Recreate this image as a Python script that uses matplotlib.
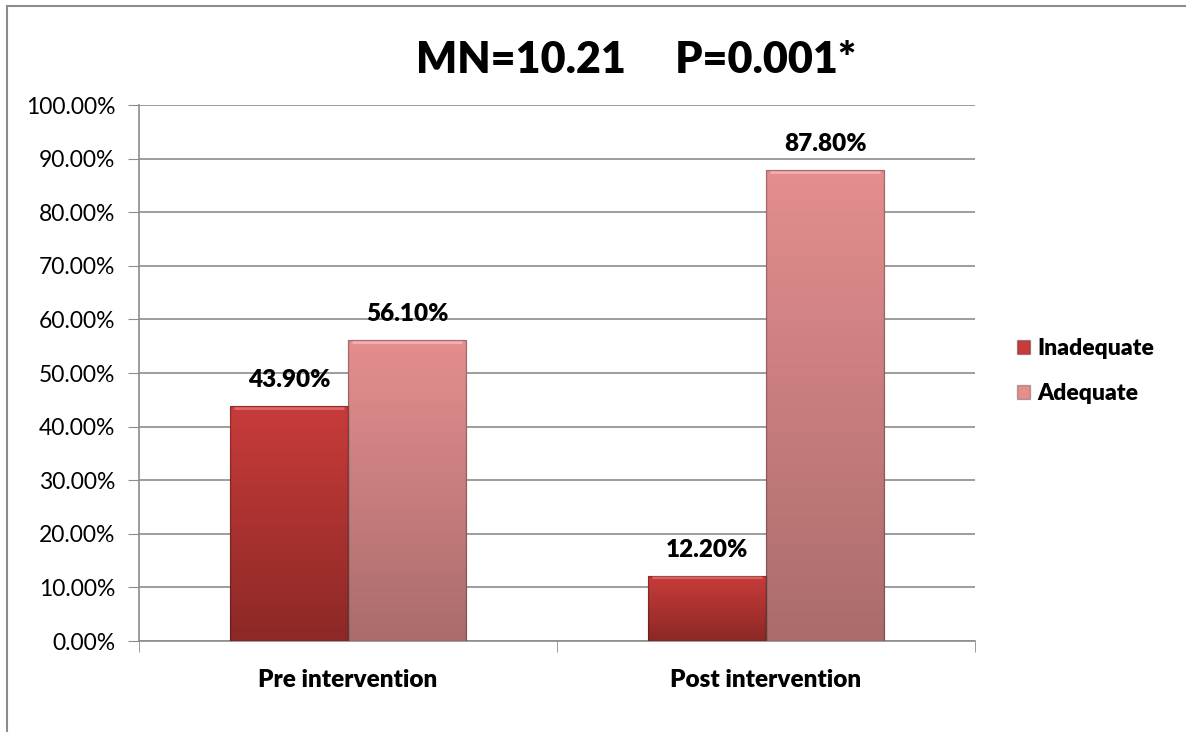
import numpy as np
import matplotlib
matplotlib.use("Agg")
import matplotlib.pyplot as plt
from matplotlib.patches import Rectangle, Patch

plt.rcParams['font.family'] = ['Lato', 'DejaVu Sans']

categories = ["Pre intervention", "Post intervention"]
series = ["Inadequate", "Adequate"]
inadequate = [43.9, 12.2]
adequate = [56.1, 87.8]
yticks = [0, 10, 20, 30, 40, 50, 60, 70, 80, 90, 100]
title = "MN=10.21     P=0.001*"

# gradient colours (top, bottom)
grads = {
    "Inadequate": ("#c83c3a", "#8c2826"),
    "Adequate": ("#e48e8e", "#ab6c6c"),
}
highlight = {"Inadequate": "#e06a66", "Adequate": "#f4b0b0"}

fig = plt.figure(figsize=(11.86, 7.32), dpi=100)
fig.patches.append(Rectangle((7 / 1186, -0.01), 1.2, 1 - 6 / 732 + 0.01,
                             transform=fig.transFigure, fill=False,
                             edgecolor="#8c8c8c", lw=1.5))

ax = fig.add_axes([139 / 1186, 1 - 641 / 732, (975 - 139) / 1186, (641 - 105) / 732])
x = np.arange(len(categories))
w = 0.283

for vals, name, off in [(inadequate, "Inadequate", -w / 2), (adequate, "Adequate", w / 2)]:
    bars = ax.bar(x + off, vals, width=w, color=grads[name][1], edgecolor="none", zorder=2)
    top, bot = grads[name]
    cmap = matplotlib.colors.LinearSegmentedColormap.from_list(name, [bot, top])
    for b, v in zip(bars, vals):
        grad = np.linspace(0, 1, 256).reshape(-1, 1)
        im = ax.imshow(grad, cmap=cmap, origin="lower", aspect="auto",
                       extent=[b.get_x(), b.get_x() + b.get_width(), 0, v], zorder=3)
        im.set_clip_path(b)
        # bevel highlight along the top
        ax.plot([b.get_x() + 0.01, b.get_x() + b.get_width() - 0.01], [v - 0.35, v - 0.35],
                color=highlight[name], lw=2, zorder=4, solid_capstyle="butt")
        ax.add_patch(Rectangle((b.get_x(), 0), b.get_width(), v, fill=False,
                               edgecolor="#00000040", lw=1.0, zorder=5))
        ax.text(b.get_x() + b.get_width() / 2, v + 2.8, f"{v:.2f}%", ha="center",
                va="bottom", fontsize=17.5, fontweight="heavy", zorder=6)

ax.set_xlim(-0.5, 1.5)
ax.set_ylim(0, 100)
ax.set_yticks(yticks)
ax.set_yticklabels([f"{t:.2f}%" for t in yticks], fontsize=16.5)
ax.set_xticks(x)
ax.set_xticklabels(categories, fontsize=17.5, fontweight="heavy")
ax.tick_params(axis="x", length=0, pad=20)
ax.tick_params(axis="y", length=8, color="#8c8c8c", pad=9)
ax.set_xticks([-0.5, 0.5, 1.5], minor=True)
ax.tick_params(axis="x", which="minor", length=8, color="#8c8c8c", direction="out")
ax.grid(axis="y", color="#8c8c8c", lw=1.2, zorder=0)
ax.set_axisbelow(True)
for s in ["top", "right"]:
    ax.spines[s].set_visible(False)
for s in ["left", "bottom"]:
    ax.spines[s].set_color("#8c8c8c")
    ax.spines[s].set_linewidth(1.2)

fig.text(636 / 1186, 1 - 60 / 732, title, ha="center", va="center",
         fontsize=31, fontweight="heavy")

handles = [Patch(facecolor=grads[s][0], edgecolor="#00000044") for s in series]
fig.legend(handles, series, loc="center left", bbox_to_anchor=(996 / 1186, 1 - 371 / 732),
           frameon=False, prop={"size": 16.5, "weight": "heavy"}, handlelength=0.6,
           handleheight=0.6, handletextpad=0.3, labelspacing=1.05)

fig.savefig("out.png", dpi=100)
